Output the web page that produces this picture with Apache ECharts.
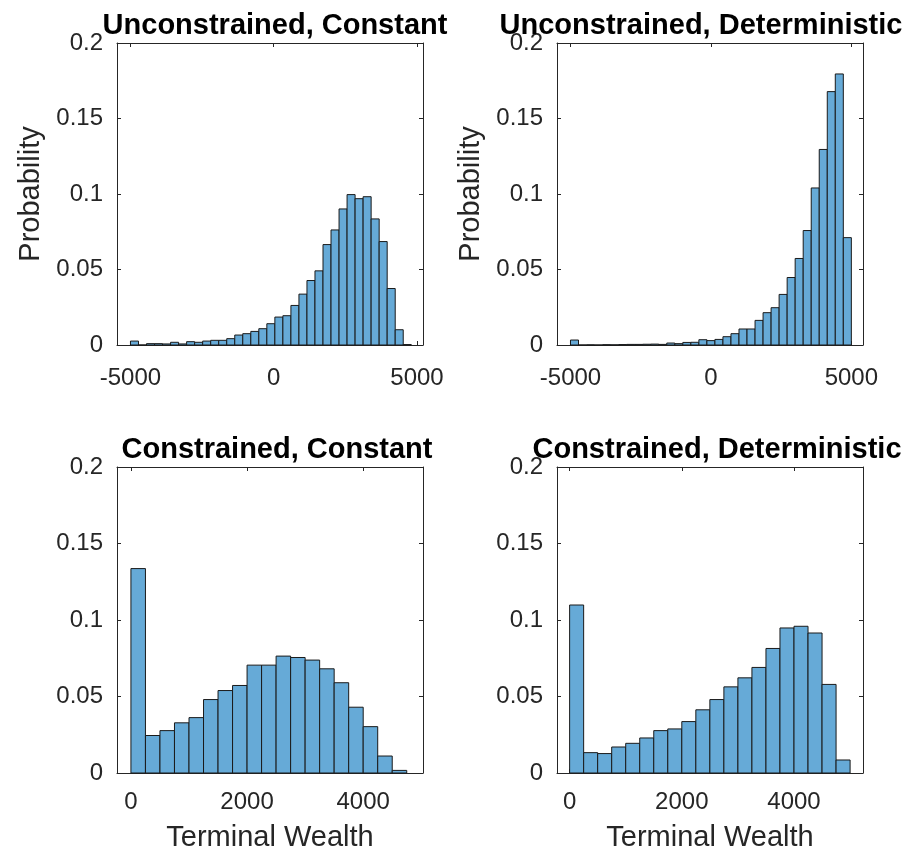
<!DOCTYPE html>
<html>
<head>
<meta charset="utf-8">
<script src="https://cdn.jsdelivr.net/npm/echarts@6/dist/echarts.min.js"></script>
<style>
  html, body { margin: 0; padding: 0; background: #fff; }
  #chart { width: 919px; height: 856px; }
</style>
</head>
<body>
<div id="chart"></div>
<script>
// Histogram probabilities of terminal wealth, one array per strategy.
const panelTitles = [
  'Unconstrained, Constant',
  'Unconstrained, Deterministic',
  'Constrained, Constant',
  'Constrained, Deterministic'
];

// bin layout: first edge and bin width
const ucConstBins = { start: -5000, width: 280 };
const ucDetBins = { start: -5000, width: 10000 / 35 };
const cConstBins = { start: 0, width: 250 };
const cDetBins = { start: 0, width: 250 };

const ucConstProb = [
  0.0026, 0, 0.0009, 0.0009, 0.0007, 0.0018, 0.0007, 0.0022, 0.0018, 0.0026,
  0.0031, 0.0031, 0.0042, 0.0066, 0.0075, 0.0090, 0.0108, 0.0141, 0.0185, 0.0194,
  0.0262, 0.0337, 0.0427, 0.0491, 0.0665, 0.0762, 0.0901, 0.0996, 0.0969, 0.0982,
  0.0835, 0.0685, 0.0374, 0.0101, 0.0003
];
const ucDetProb = [
  0.0033, 0, 0.0001, 0, 0.0002, 0.0001, 0.0003, 0.0004, 0.0004, 0.0005,
  0.0006, 0.0004, 0.0013, 0.0009, 0.0017, 0.0018, 0.0035, 0.0029, 0.0037, 0.0055,
  0.0075, 0.0106, 0.0106, 0.0163, 0.0214, 0.0247, 0.0335, 0.0447, 0.0573, 0.0758,
  0.1040, 0.1295, 0.1678, 0.1795, 0.0711
];
const cConstProb = [
  0.1336, 0.0245, 0.0277, 0.0328, 0.0362, 0.0480, 0.0539, 0.0572, 0.0705, 0.0705,
  0.0764, 0.0755, 0.0738, 0.0681, 0.0590, 0.0430, 0.0303, 0.0111, 0.0017
];
const cDetProb = [
  0.1098, 0.0133, 0.0127, 0.0170, 0.0194, 0.0229, 0.0277, 0.0288, 0.0336, 0.0413,
  0.0480, 0.0563, 0.0622, 0.0690, 0.0814, 0.0948, 0.0959, 0.0915, 0.0579, 0.0085
];

// axis ranges and tick positions
const xRanges = [[-5470, 5210], [-5480, 5415], [-240, 5030], [-225, 5230]];
const xTicksTop = [-5000, 0, 5000];
const xTicksBottom = [0, 2000, 4000];
const yTicks = [0, 0.05, 0.1, 0.15, 0.2];

const FONT = '"Liberation Sans", Arial, Helvetica, sans-serif';
const AXIS_COLOR = '#262626';
const BAR_FILL = '#66AAD7';
const BAR_EDGE = '#1a1a1a';

const grids = [
  { left: 117, top: 43, width: 306, height: 302 },
  { left: 557, top: 43, width: 306, height: 302 },
  { left: 117, top: 467, width: 306, height: 306 },
  { left: 557, top: 467, width: 306, height: 306 }
];

const panels = [
  { bins: ucConstBins, prob: ucConstProb, ticks: xTicksTop, xName: '', labelGap: 21, titleX: 270 },
  { bins: ucDetBins, prob: ucDetProb, ticks: xTicksTop, xName: '', labelGap: 21, titleX: 696 },
  { bins: cConstBins, prob: cConstProb, ticks: xTicksBottom, xName: 'Terminal Wealth', labelGap: 17, titleX: 272 },
  { bins: cDetBins, prob: cDetProb, ticks: xTicksBottom, xName: 'Terminal Wealth', labelGap: 17, titleX: 712 }
];

function histRows(bins, prob) {
  return prob.map((p, i) => [bins.start + i * bins.width, bins.start + (i + 1) * bins.width, p]);
}

function renderBar(params, api) {
  const top = api.coord([api.value(0), api.value(2)]);
  const base = api.coord([api.value(1), 0]);
  return {
    type: 'rect',
    shape: { x: top[0], y: top[1], width: base[0] - top[0], height: base[1] - top[1] },
    style: { fill: BAR_FILL, stroke: BAR_EDGE, lineWidth: 1 }
  };
}

const plain = v => String(v);
const axisLine = { show: true, onZero: false, lineStyle: { color: AXIS_COLOR, width: 1 } };
const tickStyle = { color: AXIS_COLOR, width: 1 };

const xAxis = [], yAxis = [], series = [], title = [];

panels.forEach((pn, k) => {
  const [xmin, xmax] = xRanges[k];
  // bottom x axis with labels
  xAxis.push({
    type: 'value', gridIndex: k, position: 'bottom', min: xmin, max: xmax,
    axisLine, splitLine: { show: false },
    axisTick: { inside: true, length: 4, lineStyle: tickStyle, customValues: pn.ticks },
    axisLabel: { customValues: pn.ticks, formatter: plain, color: AXIS_COLOR, fontFamily: FONT, fontSize: 24, margin: pn.labelGap },
    name: pn.xName, nameLocation: 'middle', nameGap: 50,
    nameTextStyle: { color: AXIS_COLOR, fontFamily: FONT, fontSize: 29 }
  });
  // top x axis: mirrored ticks only
  xAxis.push({
    type: 'value', gridIndex: k, position: 'top', min: xmin, max: xmax,
    axisLine, splitLine: { show: false },
    axisTick: { inside: true, length: 4, lineStyle: tickStyle, customValues: pn.ticks },
    axisLabel: { show: false }
  });
  // left y axis with labels
  yAxis.push({
    type: 'value', gridIndex: k, position: 'left', min: 0, max: 0.2,
    axisLine, splitLine: { show: false },
    axisTick: { inside: true, length: 4, lineStyle: tickStyle, customValues: yTicks },
    axisLabel: { customValues: yTicks, formatter: plain, color: AXIS_COLOR, fontFamily: FONT, fontSize: 24, margin: 14 },
    name: k < 2 ? 'Probability' : '', nameLocation: 'middle', nameGap: 72, nameRotate: 90,
    nameTextStyle: { color: AXIS_COLOR, fontFamily: FONT, fontSize: 29 }
  });
  // right y axis: mirrored ticks only
  yAxis.push({
    type: 'value', gridIndex: k, position: 'right', min: 0, max: 0.2,
    axisLine, splitLine: { show: false },
    axisTick: { inside: true, length: 4, lineStyle: tickStyle, customValues: yTicks },
    axisLabel: { show: false }
  });
  series.push({
    type: 'custom',
    xAxisIndex: 2 * k, yAxisIndex: 2 * k,
    renderItem: renderBar,
    encode: { x: [0, 1], y: 2 },
    data: histRows(pn.bins, pn.prob),
    silent: true
  });
  const g = grids[k];
  title.push({
    text: panelTitles[k],
    left: pn.titleX, top: g.top - 37,
    textAlign: 'center',
    textStyle: { color: '#000', fontFamily: FONT, fontSize: 29, fontWeight: 'bold' }
  });
});

const chart = echarts.init(document.getElementById('chart'), null, { renderer: 'canvas' });
chart.setOption({
  animation: false,
  backgroundColor: '#fff',
  title,
  grid: grids.map(g => Object.assign({ containLabel: false }, g)),
  xAxis, yAxis, series
});
</script>
</body>
</html>
